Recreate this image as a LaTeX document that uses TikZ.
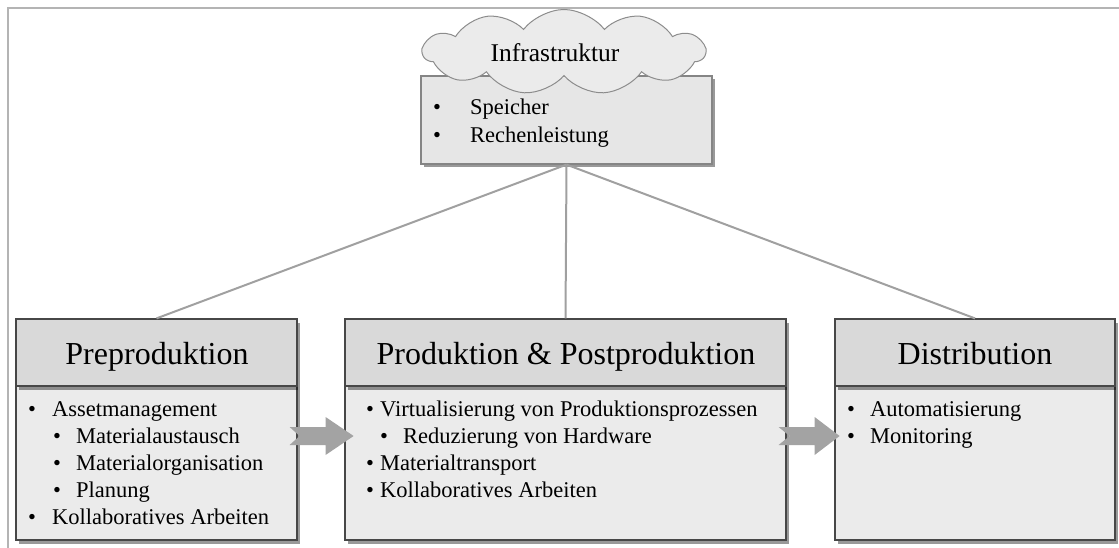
\documentclass[tikz,border=0pt]{standalone}
\usepackage{fontspec}
\setmainfont{Liberation Serif}
\usetikzlibrary{shapes.symbols,shadows,calc}

\definecolor{framegray}{HTML}{B4B4B4}
\definecolor{linkgray}{HTML}{A0A0A0}
\definecolor{boxedge}{HTML}{474747}
\definecolor{headfill}{HTML}{D9D9D9}
\definecolor{bodyfill}{HTML}{EBEBEB}
\definecolor{infraedge}{HTML}{858585}
\definecolor{infrafill}{HTML}{E6E6E6}
\definecolor{cloudedge}{HTML}{8C8C8C}
\definecolor{arrowfill}{HTML}{A3A3A3}

\tikzset{
  boxshadow/.style={drop shadow={shadow xshift=2.5pt, shadow yshift=-3.5pt, fill=black, opacity=0.4}},
  headbox/.style={draw=boxedge, line width=1.2pt, fill=headfill, rectangle, minimum height=67pt, inner sep=0pt, boxshadow},
  bodybox/.style={draw=boxedge, line width=1.2pt, fill=bodyfill, rectangle, minimum height=154pt, inner sep=0pt, boxshadow},
  infrabox/.style={draw=infraedge, line width=1.2pt, fill=infrafill, rectangle, minimum width=291pt, minimum height=88pt,
    inner sep=0pt, boxshadow},
  cloudbox/.style={cloud, cloud puffs=11, cloud puff arc=105, draw=cloudedge, line width=1pt, fill=bodyfill,
    minimum width=282pt, minimum height=85pt, inner sep=0pt},
  title/.style={anchor=base, inner sep=0pt, font=\fontsize{32}{38}\selectfont},
  itemtext/.style={anchor=base west, inner sep=0pt, font=\fontsize{22.5}{27}\selectfont},
  bul/.style={anchor=base, inner sep=0pt, font=\fontsize{22.5}{27}\selectfont},
  link/.style={draw=linkgray, line width=2pt},
  blockarrow/.style={fill=arrowfill},
}

\begin{document}
\begin{tikzpicture}[x=1pt,y=-1pt]
\useasboundingbox (0,0) rectangle (1119,548);

% outer frame
\draw[framegray, line width=2.5pt] (8,548) -- (8,8) -- (1119,8);

% boxes: body first, header on top so its shadow falls on the body
\node[bodybox, minimum width=281pt] (prebody) at (156.5,463) {};
\node[headbox, minimum width=281pt] (prehead) at (156.5,352.5) {};
\node[bodybox, minimum width=441pt] (midbody) at (565.5,463) {};
\node[headbox, minimum width=441pt] (midhead) at (565.5,352.5) {};
\node[bodybox, minimum width=280pt] (distbody) at (975,463) {};
\node[headbox, minimum width=280pt] (disthead) at (975,352.5) {};

% header titles
\node[title] (pretitle) at (157,364) {Preproduktion};
\node[title] (midtitle) at (566,364) {Produktion \& Postproduktion};
\node[title] (disttitle) at (975,364) {Distribution};

% infrastructure box
\node[infrabox] (infra) at (566.5,120) {};

% connectors from the infrastructure box to the three stages
\draw[link] (infra.south) -- (prehead.north);
\draw[link] (infra.south) -- (midhead.north);
\draw[link] (infra.south) -- (disthead.north);

% cloud label on top of the box
\node[cloudbox] (cloud) at (564,52) {};
\node[anchor=base, inner sep=0pt, font=\fontsize{25.5}{30}\selectfont] (infratitle) at (555,62) {Infrastruktur};

\node[bul] (ib1) at (437,115) {•};
\node[itemtext] (it1) at (470,115) {Speicher};
\node[bul] (ib2) at (437,143) {•};
\node[itemtext] (it2) at (470,143) {Rechenleistung};

% Preproduktion items
\node[bul] (pb1) at (32,416) {•};
\node[itemtext] (pt1) at (52,416) {Assetmanagement};
\node[bul] (pb2) at (57,443) {•};
\node[itemtext] (pt2) at (76,443) {Materialaustausch};
\node[bul] (pb3) at (57,470) {•};
\node[itemtext] (pt3) at (76,470) {Materialorganisation};
\node[bul] (pb4) at (57,497) {•};
\node[itemtext] (pt4) at (76,497) {Planung};
\node[bul] (pb5) at (32,524) {•};
\node[itemtext] (pt5) at (52,524) {Kollaboratives Arbeiten};

% Produktion & Postproduktion items
\node[bul] (mb1) at (370,416) {•};
\node[itemtext] (mt1) at (380,416) {Virtualisierung von Produktionsprozessen};
\node[bul] (mb2) at (384,443) {•};
\node[itemtext] (mt2) at (403,443) {Reduzierung von Hardware};
\node[bul] (mb3) at (370,470) {•};
\node[itemtext] (mt3) at (380,470) {Materialtransport};
\node[bul] (mb4) at (370,497) {•};
\node[itemtext] (mt4) at (380,497) {Kollaboratives Arbeiten};

% Distribution items
\node[bul] (db1) at (851,416) {•};
\node[itemtext] (dt1) at (870,416) {Automatisierung};
\node[bul] (db2) at (851,443) {•};
\node[itemtext] (dt2) at (870,443) {Monitoring};

% notched block arrows between the stages
\coordinate (arrA) at ($(prebody.east)+(-8,-27)$);
\coordinate (arrB) at ($(midbody.east)+(-8,-27)$);
\fill[blockarrow] (arrA) ++(0,-9) -- ++(36,0) -- ++(0,-10) -- ++(28,19) -- ++(-28,19) -- ++(0,-10) -- ++(-36,0) -- ++(10,-9) -- cycle;
\fill[blockarrow] (arrB) ++(0,-9) -- ++(36,0) -- ++(0,-10) -- ++(25,19) -- ++(-25,19) -- ++(0,-10) -- ++(-36,0) -- ++(11,-9) -- cycle;
\end{tikzpicture}
\end{document}
